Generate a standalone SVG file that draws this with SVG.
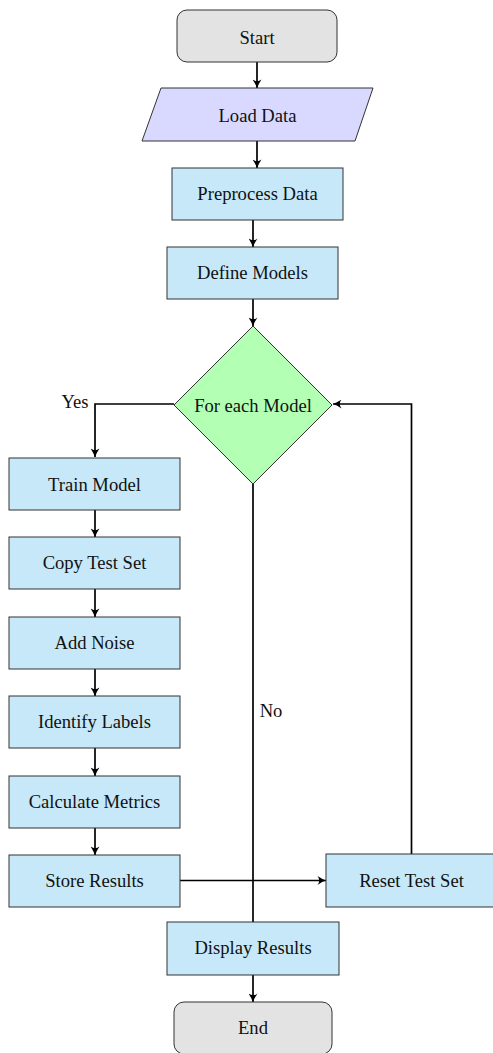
<svg xmlns="http://www.w3.org/2000/svg" width="493" height="1053" viewBox="0 0 493 1053">
<style>
text{font-family:"Liberation Serif","Times New Roman",serif;font-size:18.6px;fill:#111;text-anchor:middle;dominant-baseline:central}
.term{fill:#e3e3e3;stroke:#333;stroke-width:1}
.io{fill:#d9d9ff;stroke:#333;stroke-width:1}
.proc{fill:#c6e8f8;stroke:#333;stroke-width:1}
.dec{fill:#b3ffb3;stroke:#333;stroke-width:1}
.edge{fill:none;stroke:#000;stroke-width:1.7}
</style>
<defs>
<marker id="arr" viewBox="0 0 10 10" refX="9.5" refY="5" markerWidth="9" markerHeight="9" markerUnits="userSpaceOnUse" orient="auto">
<path d="M0,0 Q6,4 10,5 Q6,6 0,10 Q4,5 0,0 z" fill="#000"/>
</marker>
</defs>
<rect width="493" height="1053" fill="#fff"/>
<g id="connectors">
<path class="edge" d="M257,62 V88" marker-end="url(#arr)"/>
<path class="edge" d="M257,141 V168" marker-end="url(#arr)"/>
<path class="edge" d="M253,220 V247" marker-end="url(#arr)"/>
<path class="edge" d="M253,299 V326" marker-end="url(#arr)"/>
<path class="edge" d="M174,404 H95 V457" marker-end="url(#arr)"/>
<path class="edge" d="M95,510 V537" marker-end="url(#arr)"/>
<path class="edge" d="M95,589 V617" marker-end="url(#arr)"/>
<path class="edge" d="M95,669 V696" marker-end="url(#arr)"/>
<path class="edge" d="M95,748 V776" marker-end="url(#arr)"/>
<path class="edge" d="M95,828 V855" marker-end="url(#arr)"/>
<path class="edge" d="M180,880.5 H326" marker-end="url(#arr)"/>
<path class="edge" d="M411.5,854 V404 H333" marker-end="url(#arr)"/>
<path class="edge" d="M253,484 V922"/>
<path class="edge" d="M253,975 V1002" marker-end="url(#arr)"/>
<text x="75" y="401">Yes</text>
<text x="271" y="710">No</text>
</g>
<g id="start"><rect class="term" x="177" y="10" width="160" height="52" rx="10"/><text x="257" y="37">Start</text></g>
<g id="load"><polygon class="io" points="161,88 373,88 355,141 142,141"/><text x="257.5" y="115">Load Data</text></g>
<g id="preprocess"><rect class="proc" x="172" y="168" width="171" height="52"/><text x="257.5" y="193">Preprocess Data</text></g>
<g id="define"><rect class="proc" x="167" y="247" width="171" height="52"/><text x="252.5" y="272">Define Models</text></g>
<g id="foreach"><polygon class="dec" points="253,326 332,405 253,484 174,405"/><text x="253" y="405">For each Model</text></g>
<g id="train"><rect class="proc" x="9" y="458" width="171" height="52"/><text x="94.5" y="484">Train Model</text></g>
<g id="copy"><rect class="proc" x="9" y="537" width="171" height="52"/><text x="94.5" y="562">Copy Test Set</text></g>
<g id="noise"><rect class="proc" x="9" y="617" width="171" height="52"/><text x="94.5" y="642">Add Noise</text></g>
<g id="identify"><rect class="proc" x="9" y="696" width="171" height="52"/><text x="94.5" y="721">Identify Labels</text></g>
<g id="metrics"><rect class="proc" x="9" y="776" width="171" height="52"/><text x="94.5" y="801">Calculate Metrics</text></g>
<g id="store"><rect class="proc" x="9" y="855" width="171" height="52"/><text x="94.5" y="880">Store Results</text></g>
<g id="reset"><rect class="proc" x="326" y="854" width="171" height="53"/><text x="411.5" y="880">Reset Test Set</text></g>
<g id="display"><rect class="proc" x="167" y="922" width="172" height="53"/><text x="253" y="947">Display Results</text></g>
<g id="end"><rect class="term" x="174" y="1002" width="158" height="52" rx="10"/><text x="253" y="1027">End</text></g>
</svg>
